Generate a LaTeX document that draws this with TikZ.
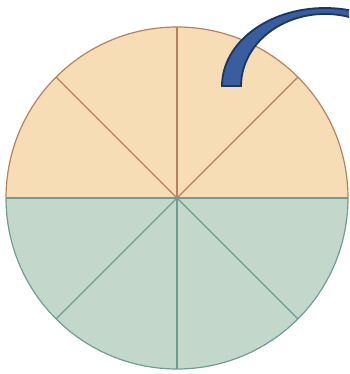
\documentclass[tikz,border=0pt]{standalone}
\usetikzlibrary{calc}
\definecolor{topfill}{HTML}{F6DDB6}
\definecolor{topline}{HTML}{B97F5E}
\definecolor{botfill}{HTML}{C3D8CB}
\definecolor{botline}{HTML}{6F9C96}
\definecolor{arcfill}{HTML}{385E9F}
\definecolor{arcline}{HTML}{1E3560}
\begin{document}
\begin{tikzpicture}[x=1pt,y=-1pt,
  toprad/.style={draw=topline,line width=1.3pt},
  botrad/.style={draw=botline,line width=1.3pt},
  arcstyle/.style={fill=arcfill,draw=arcline,line width=1.8pt,line join=miter}]
\useasboundingbox (0,0) rectangle (349,374);
\clip (0,0) rectangle (349,374);
\coordinate (c) at (177,198);
% top half
\fill[topfill] (6,198) arc[start angle=180,end angle=0,x radius=171,y radius=-171] -- cycle;
\draw[topline,line width=1.2pt] (6,198) arc[start angle=180,end angle=0,x radius=171,y radius=-171];
% bottom half
\fill[botfill] (6,198) arc[start angle=180,end angle=360,x radius=171,y radius=-171] -- cycle;
\draw[botline,line width=1.2pt] (6,198) arc[start angle=180,end angle=360,x radius=171,y radius=-171];
% radial lines
\foreach \a in {45,90,135} \draw[toprad] (c) -- ++(\a:171 and -171);
\foreach \a in {225,270,315} \draw[botrad] (c) -- ++(\a:171 and -171);
\draw[botrad] (6,198.6) -- (348,198.6);
\draw[toprad] (6,197.6) -- (348,197.6);
% block arc
\coordinate (ac) at (325,86);
\draw[arcstyle] (222,86) arc[start angle=180,end angle=20,x radius=103,y radius=-78]
  -- ($(ac)+(20:84 and -72)$)
  arc[start angle=20,end angle=180,x radius=84,y radius=-72] -- cycle;
\end{tikzpicture}
\end{document}
